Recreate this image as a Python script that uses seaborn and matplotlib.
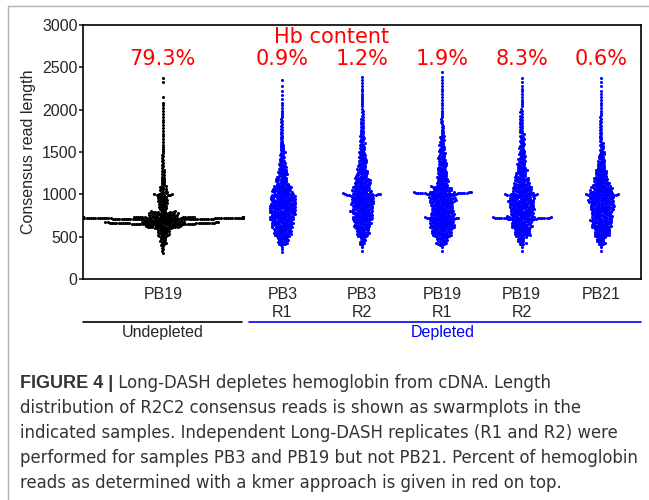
import numpy as np
import pandas as pd
import seaborn as sns
import matplotlib.pyplot as plt
from matplotlib.lines import Line2D

sns.set_style('ticks')
plt.rcParams['font.family'] = ['Liberation Sans', 'DejaVu Sans']

samples = ['PB19', 'PB3 R1', 'PB3 R2', 'PB19 R1', 'PB19 R2', 'PB21']
tick_labels = ['PB19', 'PB3\nR1', 'PB3\nR2', 'PB19\nR1', 'PB19\nR2', 'PB21']
hb_content = ['79.3%', '0.9%', '1.2%', '1.9%', '8.3%', '0.6%']

# read counts per 100 bp length bin: 300-400, 400-500, ..., 2400-2500
bin_lo = np.arange(300, 2500, 100)
counts_pb19 = [5, 12, 22, 70, 55, 16, 20, 14, 8, 6, 5, 5, 4, 3, 3, 3, 3, 3, 1, 0, 2, 0]
counts_pb3_r1 = [3, 20, 33, 40, 46, 50, 46, 37, 24, 18, 14, 10, 8, 7, 6, 5, 4, 3, 2, 2, 1, 0]
counts_pb3_r2 = [2, 12, 24, 33, 38, 41, 43, 36, 29, 21, 17, 14, 11, 9, 7, 6, 5, 4, 4, 3, 3, 0]
counts_pb19_r1 = [2, 21, 38, 46, 44, 41, 48, 37, 22, 19, 16, 13, 11, 9, 7, 5, 4, 3, 3, 3, 3, 1]
counts_pb19_r2 = [2, 15, 31, 39, 44, 46, 48, 37, 27, 20, 16, 13, 10, 9, 7, 6, 5, 4, 3, 3, 2, 0]
counts_pb21 = [2, 15, 31, 38, 39, 44, 48, 41, 29, 21, 15, 12, 9, 7, 6, 5, 4, 3, 3, 2, 2, 0]

# narrow peaks of near-identical read length: (lengths, counts)
peaks_pb19 = ([720, 660, 1000], [120, 40, 5])
peaks_pb3_r1 = ([], [])
peaks_pb3_r2 = ([1000], [8])
peaks_pb19_r1 = ([1015, 720], [20, 6])
peaks_pb19_r2 = ([720, 1000], [20, 6])
peaks_pb21 = ([1000], [5])

all_counts = [counts_pb19, counts_pb3_r1, counts_pb3_r2, counts_pb19_r1, counts_pb19_r2, counts_pb21]
all_peaks = [peaks_pb19, peaks_pb3_r1, peaks_pb3_r2, peaks_pb19_r1, peaks_pb19_r2, peaks_pb21]

BIN_W = 100
PEAK_HALF = 12


def expand(counts, peaks):
    """Spread the binned read counts evenly inside each bin."""
    vals = []
    for lo, n in zip(bin_lo, counts):
        if n:
            vals.append(lo + (np.arange(n) + 0.5) * BIN_W / n)
    for v, n in zip(*peaks):
        vals.append(v - PEAK_HALF + (np.arange(n) + 0.5) * 2 * PEAK_HALF / n)
    return np.concatenate(vals)


cat_pos = [0, 1.5, 2.5, 3.5, 4.5, 5.5]
frames = []
for name, pos, counts, peaks in zip(samples, cat_pos, all_counts, all_peaks):
    lengths = expand(counts, peaks)
    frames.append(pd.DataFrame({'sample': name, 'pos': pos, 'length': lengths}))
df = pd.concat(frames, ignore_index=True)
df_black = df[df['sample'] == 'PB19']
df_blue = df[df['sample'] != 'PB19']

fig, ax = plt.subplots(figsize=(6.49, 5.0), dpi=100)
fig.subplots_adjust(left=0.128, right=0.988, bottom=0.442, top=0.95)

DOT = 1.5        # marker size used for the swarm layout
DOT_SHOWN = 2.2  # dots overlap a bit in the original figure

sns.swarmplot(data=df_blue, x='pos', y='length', native_scale=True, orient='x',
              color='#0000ff', size=DOT, linewidth=0, warn_thresh=1, ax=ax)

# the undepleted sample spreads much wider, so it gets its own x scale
ax2 = ax.twiny()
sns.swarmplot(data=df_black, x='sample', y='length', color='black',
              size=DOT, linewidth=0, warn_thresh=1, ax=ax2)
ax2.set_xlim(-0.4, 2.4)
ax2.set_xticks([])
ax2.set_xlabel('')
ax2.set_ylabel('')
for s in ax2.spines.values():
    s.set_visible(False)

ax.set_xlim(-1, 6)
ax.set_ylim(0, 3000)
ax.set_yticks(np.arange(0, 3001, 500))
ax.set_xticks(cat_pos)
ax.set_xticklabels(tick_labels, fontsize=11.5)
ax.tick_params(axis='y', labelsize=11.5, length=3, width=1.2, pad=1)
ax.tick_params(axis='x', length=0, pad=6)
ax.set_xlabel('')
ax.set_ylabel('Consensus read length', fontsize=11.5, labelpad=4)
for s in ax.spines.values():
    s.set_visible(True)
    s.set_linewidth(1.2)
    s.set_color('black')

for pos, txt in zip(cat_pos, hb_content):
    ax.text(pos, 2600, txt, color='red', fontsize=15, ha='center', va='center',
            family='DejaVu Sans')
ax.text(0.446, 0.953, 'Hb content', transform=ax.transAxes, color='red',
        fontsize=15, ha='center', va='center', family='DejaVu Sans')

# group bars under the sample names
ax.add_line(Line2D([0, 0.285], [-0.169, -0.169], transform=ax.transAxes,
                   color='black', lw=1.2, clip_on=False))
ax.add_line(Line2D([0.297, 1.0], [-0.169, -0.169], transform=ax.transAxes,
                   color='#0000ff', lw=1.2, clip_on=False))
ax.text(0.1425, -0.209, 'Undepleted', transform=ax.transAxes, fontsize=11.5,
        ha='center', va='center')
ax.text(0.645, -0.209, 'Depleted', transform=ax.transAxes, fontsize=11.5,
        ha='center', va='center', color='#0000ff')

# panel frame
fig.add_artist(Line2D([8 / 649, 1], [1 - 6 / 500] * 2, transform=fig.transFigure,
                      color='#b0b0b0', lw=1))
fig.add_artist(Line2D([8 / 649] * 2, [0, 1 - 6 / 500], transform=fig.transFigure,
                      color='#b0b0b0', lw=1))

# caption
caption = [
    'distribution of R2C2 consensus reads is shown as swarmplots in the',
    'indicated samples. Independent Long-DASH replicates (R1 and R2) were',
    'performed for samples PB3 and PB19 but not PB21. Percent of hemoglobin',
    'reads as determined with a kmer approach is given in red on top.',
]
cap_x = 20 / 649
cap_kw = dict(fontsize=11.9, color='#333333', family='DejaVu Sans')
head = fig.text(cap_x, 1 - 383 / 500, 'FIGURE 4 |', fontweight='bold',
                va='center', ha='left', fontsize=13, color='#333333',
                family='Liberation Sans')
ax.annotate(' Long-DASH depletes hemoglobin from cDNA. Length', xy=(1, 0),
            xycoords=head, va='bottom', ha='left', annotation_clip=False, **cap_kw)
for i, line in enumerate(caption):
    fig.text(cap_x, 1 - (408 + 25 * i) / 500, line, va='center', ha='left', **cap_kw)

# lay out the swarms once, then keep those positions and draw bigger dots
fig.canvas.draw()
for coll in ax.collections + ax2.collections:
    if 'draw' in vars(coll):
        del coll.draw
    coll.set_sizes([DOT_SHOWN ** 2])

fig.savefig('out.png', dpi=100)
